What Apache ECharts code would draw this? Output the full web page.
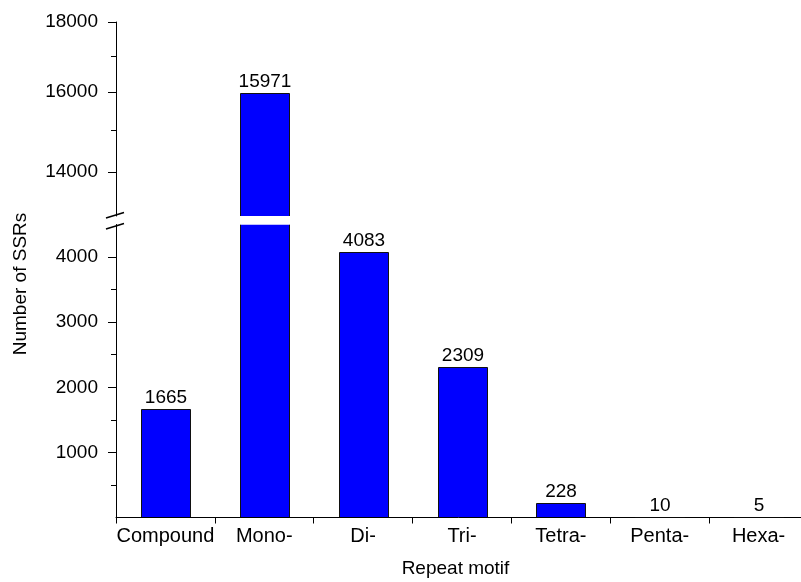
<!DOCTYPE html>
<html>
<head>
<meta charset="utf-8">
<title>Number of SSRs by repeat motif</title>
<script src="https://cdn.jsdelivr.net/npm/echarts@6/dist/echarts.min.js"></script>
<style>
  html, body { margin: 0; padding: 0; background: #ffffff; }
  #chart { width: 801px; height: 582px; }
</style>
</head>
<body>
<div id="chart"></div>
<script>
// ---- data ----
const categories = ['Compound', 'Mono-', 'Di-', 'Tri-', 'Tetra-', 'Penta-', 'Hexa-'];
const ssrCounts = [1665, 15971, 4083, 2309, 228, 10, 5];

// broken value axis: linear lower part, logarithmic upper part
const lowerRange = [0, 4500];
const upperRange = [13000, 18000];
const lowerMajorTicks = [1000, 2000, 3000, 4000];
const lowerMinorTicks = [500, 1500, 2500, 3500];
const upperMajorTicks = [14000, 16000, 18000];
const upperMinorTicks = [15000, 17000];

// ---- styling ----
const FONT = "'Liberation Sans', Arial, sans-serif";
const INK = '#000000';
const BAR_FILL = '#0000ff';
const GRID_LEFT = 116;
const GRID_WIDTH = 692;

const lowerData = ssrCounts.map((v, i) => [i, v]);
const upperData = ssrCounts.map((v, i) => [i, v]).filter(d => d[1] > lowerRange[1]);

// Bars are drawn clipped to their panel; a clipped edge gets no outline,
// so the break in the tall bar shows as a clean gap.
function barRenderer(baseValue, maxLabelled) {
  return function (params, api) {
    const cat = api.value(0);
    const val = api.value(1);
    const band = api.size([1, 0])[0];
    const w = Math.round(band * 0.5);
    const topPt = api.coord([cat, val]);
    const basePt = api.coord([cat, baseValue]);
    const cs = params.coordSys;
    const x0 = Math.round(topPt[0] - w / 2) + 0.5;
    const x1 = x0 + w;
    const rawTop = Math.min(topPt[1], basePt[1]);
    const yBot = Math.floor(Math.min(Math.max(topPt[1], basePt[1]), cs.y + cs.height));
    const topClipped = rawTop < cs.y;
    const yTop = topClipped ? cs.y : Math.round(rawTop) + 0.5;
    const lineStyle = { stroke: '#111111', lineWidth: 1, fill: null };
    const children = [{
      type: 'rect',
      shape: { x: x0, y: yTop, width: x1 - x0, height: Math.max(0, yBot - yTop) },
      style: { fill: BAR_FILL }
    }];
    if (topClipped) {
      children.push({ type: 'line', shape: { x1: x0, y1: yTop, x2: x0, y2: yBot }, style: lineStyle });
      children.push({ type: 'line', shape: { x1: x1, y1: yTop, x2: x1, y2: yBot }, style: lineStyle });
    } else {
      children.push({
        type: 'polyline',
        shape: { points: [[x0, yBot], [x0, yTop], [x1, yTop], [x1, yBot]] },
        style: lineStyle
      });
      if (maxLabelled == null || val <= maxLabelled) {
        children.push({
          type: 'text',
          x: (x0 + x1) / 2,
          y: yTop - 2,
          style: {
            text: String(val),
            fill: INK,
            fontSize: 19,
            fontFamily: FONT,
            align: 'center',
            verticalAlign: 'bottom'
          }
        });
      }
    }
    return { type: 'group', children: children };
  };
}

const plainNumber = v => String(Math.round(v));

const chart = echarts.init(document.getElementById('chart'), null, { renderer: 'canvas' });

chart.setOption({
  backgroundColor: '#ffffff',
  animation: false,
  textStyle: { fontFamily: FONT, color: INK },
  grid: [
    { left: GRID_LEFT, top: 22, width: GRID_WIDTH, height: 194, containLabel: false, outerBoundsMode: 'none' },
    { left: GRID_LEFT, top: 224.5, width: GRID_WIDTH, height: 293, containLabel: false, outerBoundsMode: 'none' }
  ],
  xAxis: [
    { gridIndex: 0, type: 'category', data: categories, show: false },
    {
      gridIndex: 1,
      type: 'category',
      data: categories,
      axisLine: { show: true, lineStyle: { color: INK, width: 1 } },
      axisTick: { show: true, inside: false, length: 6, alignWithLabel: false, lineStyle: { color: INK, width: 1 } },
      axisLabel: { interval: 0, fontSize: 20, color: INK, fontFamily: FONT, margin: 9 },
      splitLine: { show: false },
      name: 'Repeat motif',
      nameLocation: 'middle',
      nameGap: 42,
      nameTextStyle: { fontSize: 19, color: INK, fontFamily: FONT, padding: [0, 13, 0, 0] }
    }
  ],
  yAxis: [
    {
      gridIndex: 0,
      type: 'log',
      logBase: 10,
      min: upperRange[0],
      max: upperRange[1],
      axisLine: { show: true, lineStyle: { color: INK, width: 1 } },
      axisTick: { show: true, inside: false, length: 8, customValues: upperMajorTicks, lineStyle: { color: INK, width: 1 } },
      axisLabel: { fontSize: 19, color: INK, fontFamily: FONT, margin: 18, customValues: upperMajorTicks, formatter: plainNumber },
      splitLine: { show: false },
      minorTick: { show: false }
    },
    {
      gridIndex: 0,
      type: 'log',
      logBase: 10,
      min: upperRange[0],
      max: upperRange[1],
      position: 'right',
      offset: -GRID_WIDTH,
      axisLine: { show: false },
      axisTick: { show: true, inside: true, length: 5, customValues: upperMinorTicks, lineStyle: { color: INK, width: 1 } },
      axisLabel: { show: false },
      splitLine: { show: false }
    },
    {
      gridIndex: 1,
      type: 'value',
      min: lowerRange[0],
      max: lowerRange[1],
      axisLine: { show: true, lineStyle: { color: INK, width: 1 } },
      axisTick: { show: true, inside: false, length: 8, customValues: lowerMajorTicks, lineStyle: { color: INK, width: 1 } },
      axisLabel: { fontSize: 19, color: INK, fontFamily: FONT, margin: 18, customValues: lowerMajorTicks, formatter: plainNumber },
      splitLine: { show: false }
    },
    {
      gridIndex: 1,
      type: 'value',
      min: lowerRange[0],
      max: lowerRange[1],
      position: 'right',
      offset: -GRID_WIDTH,
      axisLine: { show: false },
      axisTick: { show: true, inside: true, length: 5, customValues: lowerMinorTicks, lineStyle: { color: INK, width: 1 } },
      axisLabel: { show: false },
      splitLine: { show: false }
    }
  ],
  series: [
    {
      name: 'upper',
      type: 'custom',
      xAxisIndex: 0,
      yAxisIndex: 0,
      clip: true,
      encode: { x: 0, y: 1 },
      data: upperData,
      renderItem: barRenderer(upperRange[0], null)
    },
    {
      name: 'lower',
      type: 'custom',
      xAxisIndex: 1,
      yAxisIndex: 2,
      clip: true,
      encode: { x: 0, y: 1 },
      data: lowerData,
      renderItem: barRenderer(lowerRange[0], lowerRange[1])
    }
  ],
  graphic: [
    // axis break marks
    { type: 'line', shape: { x1: 106, y1: 218, x2: 124, y2: 212.5 }, style: { stroke: INK, lineWidth: 1.5 } },
    { type: 'line', shape: { x1: 106, y1: 229, x2: 124, y2: 223.5 }, style: { stroke: INK, lineWidth: 1.5 } },
    // value axis title
    {
      type: 'text',
      x: 21,
      y: 284,
      rotation: Math.PI / 2,
      style: {
        text: 'Number of SSRs',
        fill: INK,
        fontSize: 19,
        fontFamily: FONT,
        align: 'center',
        verticalAlign: 'middle'
      }
    }
  ]
});
</script>
</body>
</html>
